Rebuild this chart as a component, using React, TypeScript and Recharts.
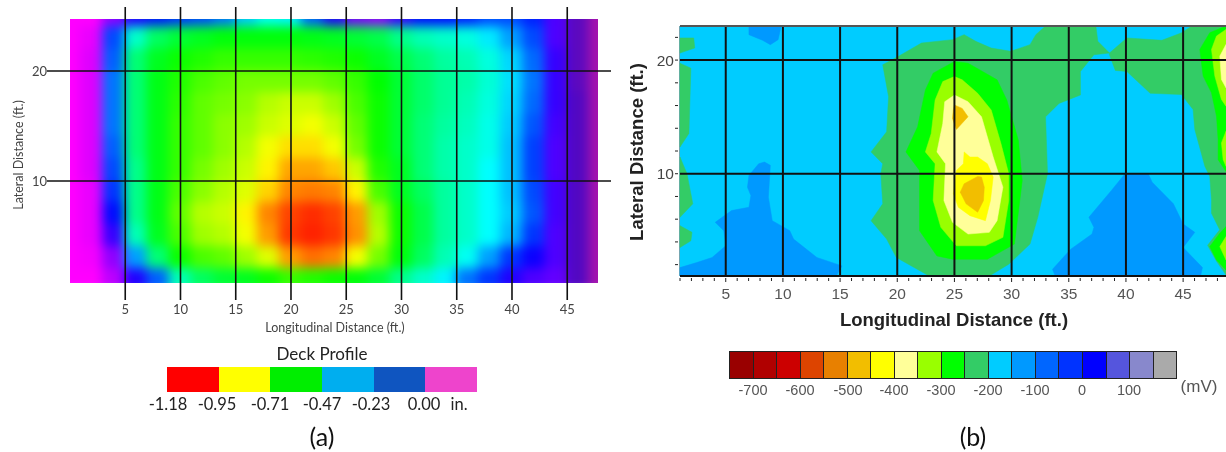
import React from 'react';
import { ScatterChart, Scatter, XAxis, YAxis, ReferenceLine } from 'recharts';

// ---------- Panel (a): deck profile, colour level in hundredths of an inch ----------
const deckColumns = [0, 2, 4, 6, 8, 10, 12, 14, 16, 18, 20, 22, 24, 26, 28, 30, 32, 34, 36, 38, 40, 42, 44, 46, 48];
const deckRows = [25, 23, 21, 19, 17, 15, 13, 11, 9, 7, 5, 3, 1];
const deckDepth = [
  [0, 0, 10, 20, 25, 28, 30, 34, 42, 48, 46, 32, 20, 12, 10, 18, 24, 24, 26, 30, 30, 26, 16, -13, -6],
  [0, 2, 30, 52, 62, 66, 68, 70, 70, 70, 70, 69, 68, 66, 64, 58, 54, 52, 50, 45, 38, 30, 16, -13, -6],
  [0, 3, 32, 60, 68, 72, 74, 76, 76, 76, 76, 75, 74, 72, 68, 64, 60, 56, 54, 50, 43, 33, 18, -13, -6],
  [0, 3, 34, 60, 69, 74, 78, 80, 82, 82, 82, 82, 80, 76, 71, 66, 61, 57, 55, 51, 44, 34, 18, -13, -6],
  [0, 3, 34, 60, 69, 75, 80, 82, 84, 88, 90, 90, 86, 78, 72, 66, 61, 57, 54, 50, 43, 33, 18, -14, -6],
  [0, 3, 34, 60, 69, 76, 80, 84, 86, 90, 92, 94, 90, 80, 72, 66, 60, 56, 53, 49, 42, 31, 17, -14, -6],
  [0, 3, 32, 60, 69, 76, 80, 84, 88, 94, 98, 98, 94, 82, 72, 66, 60, 55, 52, 49, 41, 29, 16, -14, -6],
  [0, 3, 30, 58, 69, 76, 82, 86, 90, 96, 103, 103, 100, 90, 74, 68, 60, 55, 52, 47, 41, 29, 16, -14, -6],
  [0, 2, 28, 58, 69, 78, 84, 88, 92, 99, 106, 107, 106, 96, 78, 68, 62, 56, 52, 47, 41, 30, 17, -14, -6],
  [0, 2, 24, 58, 69, 80, 88, 90, 96, 106, 112, 114, 112, 104, 86, 72, 64, 56, 52, 47, 42, 31, 17, -14, -6],
  [0, 2, 18, 54, 68, 78, 86, 88, 94, 104, 113, 115, 113, 105, 88, 72, 64, 56, 52, 47, 40, 28, 16, -14, -6],
  [0, 1, 10, 38, 60, 72, 78, 80, 86, 92, 104, 108, 106, 94, 82, 70, 62, 54, 48, 38, 28, 22, 16, -14, -6],
  [0, 0, 6, 20, 32, 54, 62, 66, 68, 72, 76, 74, 72, 70, 66, 58, 52, 46, 34, 28, 20, 16, 14, -14, -6],
];
const deckRampStops = [-20, -5, 0, 23, 47, 71, 95, 118];
const deckRampColors = [[20, 0, 210], [175, 20, 170], [255, 0, 255], [0, 0, 255], [0, 255, 255], [0, 255, 0], [255, 255, 0], [255, 0, 0]];
const deckLegendColors = ['#FF0000', '#FFFF00', '#00EE00', '#00AEEF', '#0F55C0', '#EE44CC'];
const deckLegendLabels = ['-1.18', '-0.95', '-0.71', '-0.47', '-0.23', '0.00', 'in.'];
const deckLegendCentres = [168, 217, 270, 322, 371, 424, 459];

const deckPoints = deckRows.flatMap((y, r) => deckColumns.map((x, c) => ({ x, y, depth: deckDepth[r][c] })));

// ---------- Panel (b): half-cell potential contours, [ft, ft] ----------
const plotCorners = [[1, 1], [48.75, 1], [48.75, 23], [1, 23]];
const blueLowerLeft = [[1, 1.74], [2.46, 2.18], [3.81, 2.63], [5, 3.66], [4.83, 4.99], [4.08, 5.72], [5.51, 6.76], [7.03, 7.05], [7.2, 8.08], [6.9, 8.8], [7.03, 9.85], [7.88, 10.88], [8.39, 11.03], [8.9, 10.74], [8.73, 7.94], [9.07, 5.87], [10.6, 4.99], [10.93, 4.25], [12.97, 2.63], [15.17, 1.89], [14.66, 1], [1, 1]];
const blueTop = [[7.03, 23], [7.03, 22.24], [8.22, 21.74], [8.9, 21.36], [9.58, 21.8], [9.85, 23]];
const blueLowerRight = [[33.58, 1.59], [35.17, 3.36], [37.03, 4.69], [37.2, 5.28], [36.76, 6.17], [38.73, 8.53], [39.92, 10], [41.95, 10], [42.29, 9.26], [44.15, 7.35], [45, 5.58], [46.02, 4.84], [45, 3.51], [46.69, 1.74], [46.53, 1], [33.81, 1]];
const seaCentre = [[22.8, 1], [19.92, 2.63], [19.07, 4.25], [17.71, 5.87], [18.73, 7.35], [18.56, 10], [18.73, 10.88], [17.71, 11.92], [19.07, 13.69], [19.24, 16.78], [18.73, 19.59], [20.08, 20.32], [22.12, 21.5], [24.83, 21.8], [25.85, 22.24], [26.86, 21.65], [28.22, 21.06], [29.92, 20.77], [31.61, 21.36], [32.12, 22.24], [32.97, 23], [37.37, 23], [37.54, 21.65], [38.56, 20.62], [37.2, 20.47], [36.02, 19], [36.02, 16.93], [34.15, 16.19], [32.97, 15.01], [33.14, 10], [32.29, 6.17], [31.61, 3.81], [29.75, 2.04], [28.05, 1]];
const seaRight = [[38.56, 20.62], [40.08, 21.95], [43.14, 21.74], [44.83, 22.39], [45.78, 23], [48.75, 23], [48.75, 1.1], [47.92, 2.3], [47.14, 3.7], [48.2, 5.06], [47.48, 6.53], [47.48, 7.7], [47.33, 9.76], [46.9, 10.65], [46.02, 13.9], [45.87, 15.65], [44.85, 16.97], [42.12, 17.08], [40.08, 19], [39.07, 19.09], [38.56, 20.47]];
const seaEdgeA = [[1, 21.95], [2.2, 21.95], [2.29, 21.06], [1.44, 20.77], [1, 20.62]];
const seaEdgeB = [[1, 19.73], [1.95, 19.29], [1.78, 13.54], [1, 12.36]];
const seaEdgeC = [[1, 11.47], [1.61, 10], [2.12, 7.35], [1, 6.17]];
const seaEdgeD = [[1, 5.43], [2.05, 4.84], [1.95, 4.1], [1, 3.51]];
const greenCentre = [[25, 19.88], [23.14, 18.85], [22.46, 17.37], [21.78, 14.13], [20.76, 11.92], [21.95, 10.29], [21.95, 4.99], [23.47, 2.77], [24.83, 2.48], [27.88, 2.48], [30.25, 3.81], [30.93, 9.41], [30.59, 12.95], [29.58, 16.49], [28.73, 18.26], [26.19, 19.73]];
const greenRightTop = [[48.75, 23], [47.33, 22.41], [46.46, 20.94], [46.75, 18.59], [47.48, 17.12], [47.92, 15.06], [48.06, 13], [48.06, 11.24], [48.75, 10.2]];
const greenRightLow = [[48.75, 5.35], [48.21, 4.76], [47.33, 3.59], [47.92, 2.41], [48.75, 1.53]];
const limeCentre = [[25, 18.55], [23.98, 18.11], [23.31, 16.49], [22.97, 13.54], [22.46, 11.92], [23.31, 10.88], [23.14, 7.64], [23.81, 5.28], [25.17, 3.66], [27.71, 3.66], [29.24, 4.4], [29.75, 7.64], [29.75, 10], [29.07, 12.65], [28.22, 15.6], [27.03, 17.08], [25.68, 18.26]];
const limeRightTop = [[48.75, 22.7], [47.92, 22.12], [47.48, 20.94], [47.77, 18.59], [48.35, 16.53], [48.75, 15.94]];
const limeRightMid = [[48.75, 13.74], [48.35, 12.71], [48.5, 11.24], [48.75, 10.65]];
const limeRightLow = [[48.75, 4.47], [48.21, 3.59], [48.75, 2.41]];
const paleCentre = [[25, 16.93], [24.15, 16.34], [23.98, 14.42], [23.47, 11.92], [24.22, 10.88], [24.08, 7.64], [24.83, 5.72], [26.19, 4.69], [28.05, 4.84], [28.73, 5.87], [29.24, 8.82], [28.39, 11.47], [27.37, 15.01], [26.19, 16.34]];
const paleRight = [[48.75, 21.38], [48.21, 20.35], [48.35, 18.29], [48.75, 17.56]];
const yellowCentre = [[25.85, 11.92], [25.78, 10.88], [25.17, 10.29], [24.9, 8.23], [25.34, 7.05], [26.36, 6.31], [27.71, 5.87], [28.15, 7.64], [28.39, 9.71], [27.88, 10.88], [27.03, 11.47], [26.36, 11.47]];
const goldLower = [[27.03, 9.76], [25.85, 9.12], [25.51, 8.38], [26.02, 7.35], [27.03, 6.61], [27.54, 7.64], [27.61, 8.82], [27.37, 9.71]];
const goldUpper = [[25, 16.05], [25.68, 15.75], [26.19, 15.01], [25.17, 13.89], [24.83, 14.87], [24.9, 15.6]];

const contourLayers: [string, number[][]][] = [
  ['#00CCFF', plotCorners],
  ['#0099FF', blueLowerLeft], ['#0099FF', blueTop], ['#0099FF', blueLowerRight],
  ['#33CC66', seaCentre], ['#33CC66', seaRight], ['#33CC66', seaEdgeA], ['#33CC66', seaEdgeB], ['#33CC66', seaEdgeC], ['#33CC66', seaEdgeD],
  ['#00FF00', greenCentre], ['#00FF00', greenRightTop], ['#00FF00', greenRightLow],
  ['#99FF00', limeCentre], ['#99FF00', limeRightTop], ['#99FF00', limeRightMid], ['#99FF00', limeRightLow],
  ['#FFFF99', paleCentre], ['#FFFF99', paleRight],
  ['#FFFF00', yellowCentre],
  ['#F2BE00', goldLower], ['#F2BE00', goldUpper],
];

const potentialLegendColors = ['#990000', '#B00000', '#CC0000', '#DD4400', '#E88000', '#F2BE00', '#FFFF00', '#FFFF99', '#99FF00', '#00FF00', '#33CC66', '#00CCFF', '#0099FF', '#0066FF', '#0033FF', '#0000FF', '#5555DD', '#8888CC', '#AAAAAA'];
const potentialLegendLabels = ['-700', '-600', '-500', '-400', '-300', '-200', '-100', '0', '100'];
const potentialLegendCentres = [753, 800, 848, 894, 941, 988, 1035, 1082, 1129];

const gridFeet = [5, 10, 15, 20, 25, 30, 35, 40, 45];
const latFeet = [10, 20];
const minorX = Array.from({ length: 48 }, (_, i) => i + 1);
const minorY = [2, 4, 6, 8, 10, 12, 14, 16, 18, 20, 22];

function deckColor(depth: number) {
  let i = 0;
  while (i < deckRampStops.length - 2 && depth > deckRampStops[i + 1]) i++;
  const t = Math.max(0, Math.min(1, (depth - deckRampStops[i]) / (deckRampStops[i + 1] - deckRampStops[i])));
  const a = deckRampColors[i];
  const b = deckRampColors[i + 1];
  return `rgb(${a.map((v, k) => Math.round(v + (b[k] - v) * t)).join(',')})`;
}

const DeckCell = (p: any) => (
  <rect x={p.cx - 12} y={p.cy - 12} width={24} height={24} fill={deckColor(p.payload.depth)} />
);
const Nothing = () => null;
const PolygonFill = (p: any) => (
  <polygon points={p.points.map((q: any) => `${q.x},${q.y}`).join(' ')} fill={p.stroke} stroke={p.stroke} strokeWidth={0.5} />
);

const calibri = 'Lato, "Open Sans", sans-serif';
const arial = '"Liberation Sans", Arial, sans-serif';

const BottomTick = (p: any) => {
  const major = p.payload.value % 5 === 0;
  return (
    <g>
      <line x1={p.x} x2={p.x} y1={p.y} y2={p.y + (major ? 4 : 3)} stroke="#222" strokeWidth={1} />
      {major && (
        <text x={p.x} y={p.y + 21} textAnchor="middle" fontFamily={arial} fontSize={15.5} fill="#555">{p.payload.value}</text>
      )}
    </g>
  );
};
const LeftTick = (p: any) => {
  const major = p.payload.value % 10 === 0;
  return (
    <g>
      <line x1={p.x - 3} x2={p.x} y1={p.y} y2={p.y} stroke="#222" strokeWidth={1} />
      {major && (
        <text x={p.x - 4} y={p.y + 5.5} textAnchor="end" fontFamily={arial} fontSize={15.5} fill="#444">{p.payload.value}</text>
      )}
    </g>
  );
};

const label = (text: string, x: number, y: number, size: number, fill: string, family: string, weight: any, rotate = false) => () => (
  <text x={x} y={y} textAnchor="middle" fontSize={size} fill={fill} fontFamily={family} fontWeight={weight}
    transform={rotate ? `rotate(-90 ${x} ${y})` : undefined}>{text}</text>
);

const Caption = ({ x, y, size, color, family, children }: any) => (
  <div style={{ position: 'absolute', left: x - 60, top: y - size * 0.62, width: 120, textAlign: 'center', fontSize: size, lineHeight: `${size * 1.2}px`, color, fontFamily: family, whiteSpace: 'nowrap' }}>{children}</div>
);

export default function App() {
  return (
    <div style={{ position: 'fixed', left: 0, top: 0, width: 1226, height: 452, background: '#fff', overflow: 'hidden' }}>
      <style>{`.heat .recharts-scatter { filter: url(#heatBlur); }`}</style>
      <svg width={0} height={0} style={{ position: 'absolute' }}>
        <defs>
          <filter id="heatBlur" filterUnits="userSpaceOnUse" x={70} y={19} width={528} height={264} colorInterpolationFilters="sRGB">
            <feGaussianBlur stdDeviation={5.5} />
          </filter>
        </defs>
      </svg>
      <div style={{ position: 'absolute', inset: 0, filter: 'blur(0.6px)' }}>
        <div className="heat" style={{ position: 'absolute', left: 0, top: 0 }}>
          <ScatterChart width={620} height={340} margin={{ left: 17, right: 9, top: 7, bottom: 0 }}>
            <XAxis type="number" dataKey="x" domain={[-2.08, 48.96]} ticks={gridFeet} axisLine={false} tickLine={false} tickSize={0} tickMargin={5} height={40}
              tick={{ fontFamily: calibri, fontSize: 13, fill: '#444' }} interval={0}
              label={label('Longitudinal Distance (ft.)', 335, 331.5, 12.5, '#444', calibri, 400)} />
            <YAxis type="number" dataKey="y" domain={[-0.82, 25.82]} ticks={latFeet} axisLine={false} tickLine={false} tickSize={0} tickMargin={0} width={30}
              tick={{ fontFamily: calibri, fontSize: 13, fill: '#444' }} interval={0}
              label={label('Lateral Distance (ft.)', 22.5, 155, 12.5, '#444', calibri, 400, true)} />
            <Scatter data={deckPoints} shape={DeckCell} isAnimationActive={false} />
            {gridFeet.map((f) => <ReferenceLine key={f} x={f} isFront zIndex={1000} stroke="#111" strokeWidth={1.6} />)}
            {latFeet.map((f) => <ReferenceLine key={f} y={f} isFront zIndex={1000} stroke="#111" strokeWidth={1.6} />)}
          </ScatterChart>
        </div>

        <div style={{ position: 'absolute', left: 620, top: 0 }}>
          <ScatterChart width={606} height={340} margin={{ left: 0, right: 0, top: 26, bottom: 0 }}>
            <XAxis type="number" dataKey="x" domain={[1, 48.75]} ticks={minorX} interval={0} height={64} axisLine={{ stroke: '#111', strokeWidth: 2 }} tickLine={false} tickSize={0} tick={BottomTick}
              label={label('Longitudinal Distance (ft.)', 334, 326, 18.5, '#222', arial, 700)} />
            <YAxis type="number" dataKey="y" domain={[1, 23]} ticks={minorY} interval={0} width={60} axisLine={{ stroke: '#333', strokeWidth: 1 }} tickLine={false} tickSize={0} tick={LeftTick}
              label={label('Lateral Distance (ft.)', 23, 152, 18.5, '#222', arial, 700, true)} />
            {contourLayers.map(([color, poly], i) => (
              <Scatter key={i} data={poly.map(([x, y]) => ({ x, y }))} fill={color} line={PolygonFill} lineType="joint" shape={Nothing} isAnimationActive={false} />
            ))}
            {gridFeet.map((f) => <ReferenceLine key={f} x={f} isFront zIndex={1000} stroke="#111" strokeWidth={2} />)}
            {latFeet.map((f) => <ReferenceLine key={f} y={f} isFront zIndex={1000} stroke="#111" strokeWidth={2} />)}
            <ReferenceLine y={23} isFront zIndex={1000} stroke="#555" strokeWidth={2} />
            <ReferenceLine y={1} isFront zIndex={1000} stroke="#111" strokeWidth={2} />
          </ScatterChart>
        </div>

        {/* legend (a) */}
        <Caption x={322} y={355} size={17} color="#222" family={calibri}>Deck Profile</Caption>
        <div style={{ position: 'absolute', left: 167, top: 367, width: 310, height: 25, display: 'flex' }}>
          {deckLegendColors.map((c) => <div key={c} style={{ flex: 1, background: c }} />)}
        </div>
        {deckLegendLabels.map((t, i) => (
          <Caption key={t} x={deckLegendCentres[i]} y={405} size={16.5} color="#222" family={calibri}>{t}</Caption>
        ))}
        <Caption x={322} y={436} size={25} color="#111" family={calibri}>(a)</Caption>

        {/* legend (b) */}
        <div style={{ position: 'absolute', left: 729, top: 351, width: 448, height: 28, display: 'flex', background: '#222', boxSizing: 'border-box', padding: 1, gap: 1 }}>
          {potentialLegendColors.map((c) => <div key={c} style={{ flex: 1, background: c }} />)}
        </div>
        {potentialLegendLabels.map((t, i) => (
          <Caption key={t} x={potentialLegendCentres[i]} y={391} size={14.5} color="#555" family={arial}>{t}</Caption>
        ))}
        <Caption x={1199} y={388} size={17} color="#555" family={arial}>(mV)</Caption>
        <Caption x={973} y={436} size={25} color="#111" family={calibri}>(b)</Caption>
      </div>
    </div>
  );
}
